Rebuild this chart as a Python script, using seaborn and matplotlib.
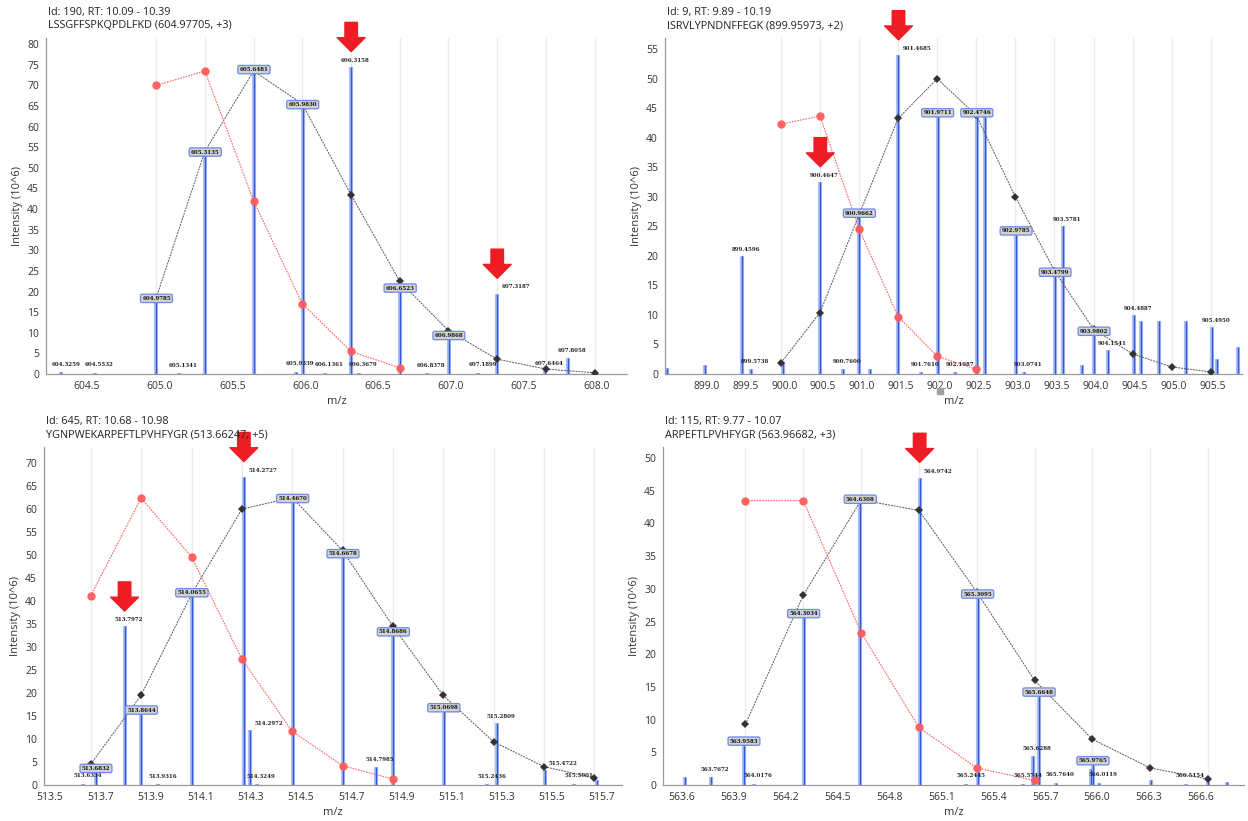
import matplotlib
matplotlib.use("Agg")
import matplotlib.pyplot as plt
import matplotlib.ticker as mticker
import matplotlib.transforms as mtransforms
import numpy as np
import seaborn as sns

sns.set_style("white")
plt.rcParams["font.family"] = ["Open Sans", "DejaVu Sans"]

W, H = 1248, 821

# ---------------- panel 1 (top left) ----------------
P1_TITLE = ["Id: 190, RT: 10.09 - 10.39", "LSSGFFSPKQPDLFKD (604.97705, +3)"]
P1_MZ = [604.3259, 604.5532, 604.9785, 605.1341, 605.3135, 605.6481, 605.9339, 605.9830,
         606.1361, 606.3158, 606.3679, 606.6523, 606.8378, 606.9868, 607.1899, 607.3187,
         607.6464, 607.8058]
P1_INT = [0.4, 0.3, 18, 0.2, 53.5, 73.5, 0.6, 65, 0.3, 74.5, 0.3, 20.5, 0.2, 9, 0.3, 19.5, 0.7, 4]
P1_BOXED = ["604.9785", "605.3135", "605.6481", "605.9830", "606.6523", "606.9868"]
P1_ISO = [604.977, 605.311, 605.646, 605.980, 606.315, 606.649, 606.984, 607.318, 607.653, 607.987]
P1_THEO = [18.5, 54, 73.5, 65.5, 43.5, 22.5, 10.5, 3.6, 1.2, 0.3]
P1_OBS = [70, 73.5, 42, 17, 5.5, 1.5]
P1_ARROWS = [606.3158, 607.3187]
P1_XTICKS = [604.5, 605.0, 605.5, 606.0, 606.5, 607.0, 607.5, 608.0]
P1_YMAX = 80

# ---------------- panel 2 (top right) ----------------
P2_TITLE = ["Id: 9, RT: 9.89 - 10.19", "ISRVLYPNDNFFEGK (899.95973, +2)"]
P2_MZ = [898.49, 898.99, 899.4596, 899.5738, 899.99, 900.4647, 900.7600, 900.9662, 901.10,
         901.4685, 901.7610, 901.9711, 902.1987, 902.4746, 902.58, 902.9785, 903.0741,
         903.4799, 903.5781, 903.83, 903.9802, 904.1541, 904.4887, 904.58, 904.82, 905.16,
         905.4950, 905.56, 905.83]
P2_INT = [1.0, 1.5, 20, 0.8, 2.0, 32.5, 0.8, 27, 0.8, 54, 0.3, 44, 0.3, 44, 43.5, 24, 0.3,
          17, 25, 1.5, 7, 4, 10, 9, 9, 9, 8, 2.5, 4.5]
P2_LABELED = ["899.4596", "899.5738", "900.4647", "900.7600", "900.9662", "901.4685",
              "901.7610", "901.9711", "902.1987", "902.4746", "902.9785", "903.0741",
              "903.4799", "903.5781", "903.9802", "904.1541", "904.4887", "905.4950"]
P2_BOXED = ["900.9662", "901.9711", "902.4746", "902.9785", "903.4799", "903.9802"]
P2_ISO = [899.960, 900.461, 900.963, 901.465, 901.966, 902.468, 902.970, 903.471, 903.973,
          904.475, 904.976, 905.478]
P2_THEO = [1.9, 10.4, 27, 43.3, 50, 43.8, 30, 17.5, 7.6, 3.4, 1.2, 0.35]
P2_OBS = [42.3, 43.7, 24.5, 9.7, 3.0, 0.8]
P2_ARROWS = [901.4685, 900.4647]
P2_XTICKS = [899.0, 899.5, 900.0, 900.5, 901.0, 901.5, 902.0, 902.5, 903.0, 903.5, 904.0,
             904.5, 905.0, 905.5]
P2_YMAX = 55
P2_CURSOR = [902.0]  # small grey cursor handle under the axis

# ---------------- panel 3 (bottom left) ----------------
P3_TITLE = ["Id: 645, RT: 10.68 - 10.98", "YGNPWEKARPEFTLPVHFYGR (513.66247, +5)"]
P3_MZ = [513.6334, 513.6832, 513.7972, 513.8644, 513.9316, 514.0655, 514.2727, 514.2972,
         514.3249, 514.4670, 514.6678, 514.7985, 514.8686, 515.0698, 515.2436, 515.2809,
         515.4722, 515.5901, 515.68]
P3_INT = [0.3, 3.3, 34.5, 16, 0.2, 41.5, 67, 12, 0.2, 62, 50, 4, 33, 16.5, 0.2, 13.5, 3.3,
          0.3, 1.0]
P3_LABELED = ["513.6334", "513.6832", "513.7972", "513.8644", "513.9316", "514.0655",
              "514.2727", "514.2972", "514.3249", "514.4670", "514.6678", "514.7985",
              "514.8686", "515.0698", "515.2436", "515.2809", "515.4722", "515.5901"]
P3_BOXED = ["513.6832", "513.8644", "514.0655", "514.4670", "514.6678", "514.8686", "515.0698"]
P3_ISO = [513.662, 513.863, 514.064, 514.265, 514.465, 514.666, 514.867, 515.067, 515.268,
          515.469, 515.670]
P3_THEO = [4.5, 19.5, 41.5, 60, 62.5, 51, 34.5, 19.5, 9.4, 4.0, 1.5]
P3_OBS = [41.1, 62.4, 49.6, 27.4, 11.7, 4.2, 1.3]
P3_ARROWS = [514.2727, 513.7972]
P3_XTICKS = [513.5, 513.7, 513.9, 514.1, 514.3, 514.5, 514.7, 514.9, 515.1, 515.3, 515.5, 515.7]
P3_YMAX = 70

# ---------------- panel 4 (bottom right) ----------------
P4_TITLE = ["Id: 115, RT: 9.77 - 10.07", "ARPEFTLPVHFYGR (563.96682, +3)"]
P4_MZ = [563.62, 563.7672, 563.9583, 564.0176, 564.3034, 564.6308, 564.9742, 565.2445,
         565.3095, 565.5744, 565.6288, 565.6648, 565.7640, 565.9623, 565.9765, 566.0119,
         566.31, 566.5154, 566.64, 566.75]
P4_INT = [1.2, 1.2, 6.5, 0.2, 26, 43.5, 47, 0.2, 29, 0.2, 4.5, 14, 0.3, 2.5, 3.5, 0.3, 0.7,
          0.2, 0.8, 0.5]
P4_LABELED = ["563.7672", "563.9583", "564.0176", "564.3034", "564.6308", "564.9742",
              "565.2445", "565.3095", "565.5744", "565.6288", "565.6648", "565.7640",
              "565.9623", "565.9765", "566.0119", "566.5154"]
P4_BOXED = ["563.9583", "564.3034", "564.6308", "565.3095", "565.6648", "565.9765"]
P4_ISO = [563.967, 564.301, 564.636, 564.970, 565.305, 565.639, 565.973, 566.308, 566.642]
P4_THEO = [9.3, 29, 43.6, 42, 29.5, 16, 7, 2.6, 0.9]
P4_OBS = [43.5, 43.5, 23.3, 8.8, 2.6, 0.7]
P4_ARROWS = [564.9742]
P4_XTICKS = [563.6, 563.9, 564.2, 564.5, 564.8, 565.1, 565.4, 565.7, 566.0, 566.3, 566.6]
P4_YMAX = 50

# layout in pixels: axes left, right, top, bottom, x limits, y top, minor x step
PANELS = [
    dict(title=P1_TITLE, mz=P1_MZ, inten=P1_INT, labeled=[f"{m:.4f}" for m in P1_MZ],
         boxed=P1_BOXED, iso=P1_ISO, theo=P1_THEO, obs=P1_OBS, arrows=P1_ARROWS,
         xticks=P1_XTICKS, ymax=P1_YMAX, cursor=[],
         box=(46, 627, 38, 374), xlim=(604.22, 608.21), ytop=81.5, minor=0.1),
    dict(title=P2_TITLE, mz=P2_MZ, inten=P2_INT, labeled=P2_LABELED,
         boxed=P2_BOXED, iso=P2_ISO, theo=P2_THEO, obs=P2_OBS, arrows=P2_ARROWS,
         xticks=P2_XTICKS, ymax=P2_YMAX, cursor=P2_CURSOR,
         box=(665, 1242, 38, 374), xlim=(898.47, 905.88), ytop=56.9, minor=0.1),
    dict(title=P3_TITLE, mz=P3_MZ, inten=P3_INT, labeled=P3_LABELED,
         boxed=P3_BOXED, iso=P3_ISO, theo=P3_THEO, obs=P3_OBS, arrows=P3_ARROWS,
         xticks=P3_XTICKS, ymax=P3_YMAX, cursor=[],
         box=(44, 622, 447, 785), xlim=(513.476, 515.78), ytop=73.5, minor=0.04),
    dict(title=P4_TITLE, mz=P4_MZ, inten=P4_INT, labeled=P4_LABELED,
         boxed=P4_BOXED, iso=P4_ISO, theo=P4_THEO, obs=P4_OBS, arrows=P4_ARROWS,
         xticks=P4_XTICKS, ymax=P4_YMAX, cursor=[],
         box=(663, 1244, 447, 785), xlim=(563.49, 566.85), ytop=51.7, minor=0.05),
]

PEAK_BLUE = "#2f56e0"
RED_LINE = "#ff5b5b"
ARROW_RED = "#ee1c25"
DARK = "#333333"
SIDE = ["607.3187", "514.2727", "514.2972", "515.4722", "564.9742", "901.4685"]


def draw_panel(fig, p):
    l, r, t, b = p["box"]
    ax = fig.add_axes([l / W, 1 - b / H, (r - l) / W, (b - t) / H])
    ax.set_xlim(*p["xlim"])
    ax.set_ylim(0, p["ytop"])

    # faint grid at isotope positions
    for x in p["iso"]:
        ax.axvline(x, color="#ececec", lw=1.0, zorder=0)

    # spectrum peaks
    ax.vlines(p["mz"], 0, p["inten"], color="#aebff5", lw=3.0, zorder=1)
    ax.vlines(p["mz"], 0, p["inten"], color=PEAK_BLUE, lw=1.0, zorder=2)

    # theoretical isotope envelope (black) and observed profile (red)
    sns.lineplot(x=p["iso"], y=p["theo"], ax=ax, color="#555555", lw=0.7,
                 linestyle=(0, (2, 1)), marker="D", markersize=4.5,
                 markerfacecolor=DARK, markeredgewidth=0, zorder=3, sort=False)
    n = len(p["obs"])
    sns.lineplot(x=p["iso"][:n], y=p["obs"], ax=ax, color=RED_LINE, lw=0.8,
                 linestyle=(0, (1.5, 1)), marker="o", markersize=6,
                 markerfacecolor=RED_LINE, markeredgewidth=0, alpha=0.95, zorder=3,
                 sort=False)

    # peak labels
    for mz, h in zip(p["mz"], p["inten"]):
        lab = f"{mz:.4f}"
        if lab not in p["labeled"]:
            continue
        if lab in p["boxed"]:
            ax.annotate(lab, (mz, h), xytext=(0, 1), textcoords="offset points",
                        ha="center", va="center", fontsize=4, fontweight="bold",
                        family="DejaVu Serif", color="#111111", zorder=5,
                        bbox=dict(boxstyle="round,pad=0.3", fc="#d2d2d2",
                                  ec="#6d8ae6", lw=0.9))
        elif h < 3:
            ax.annotate(lab, (mz, h), xytext=(3, 4), textcoords="offset points",
                        ha="center", va="bottom", fontsize=4, fontweight="bold",
                        family="DejaVu Serif", color="#222222", zorder=5)
        else:
            ax.annotate(lab, (mz, h), xytext=(3, 3), textcoords="offset points",
                        ha="left" if lab in SIDE else "center", va="bottom",
                        fontsize=4, fontweight="bold", family="DejaVu Serif",
                        color="#222222", zorder=5)

    # red arrows marking peaks of interest
    for mz in p["arrows"]:
        h = p["inten"][p["mz"].index(mz)]
        ax.annotate("", xy=(mz, h), xytext=(0, 32), textcoords="offset points",
                    annotation_clip=False, zorder=6,
                    arrowprops=dict(arrowstyle="simple,head_width=2.0,head_length=1.0,tail_width=0.9",
                                    mutation_scale=10, color=ARROW_RED, shrinkA=0, shrinkB=11))

    # grey cursor handle below the axis
    trans = mtransforms.blended_transform_factory(ax.transData, ax.transAxes)
    for x in p["cursor"]:
        ax.plot([x], [-0.05], marker="s", color="#a0a0a0", markersize=5,
                transform=trans, clip_on=False, zorder=6)

    ax.set_xticks(p["xticks"])
    ax.xaxis.set_major_formatter(mticker.FormatStrFormatter("%.1f"))
    ax.xaxis.set_minor_locator(mticker.MultipleLocator(p["minor"]))
    ax.set_yticks(np.arange(0, p["ymax"] + 1, 5))
    ax.yaxis.set_minor_locator(mticker.MultipleLocator(1))
    ax.tick_params(which="major", direction="out", length=3, width=0.8, color="#777777",
                   labelsize=7.5, labelcolor="#333333", pad=2)
    ax.tick_params(which="minor", direction="out", length=1.8, width=0.6, color="#888888")
    for s in ["top", "right"]:
        ax.spines[s].set_visible(False)
    for s in ["left", "bottom"]:
        ax.spines[s].set_color("#9a9a9a")
        ax.spines[s].set_linewidth(0.9)
    ax.set_xlabel("m/z", fontsize=8, color="#333333", labelpad=3)
    ax.set_ylabel("Intensity (10^6)", fontsize=8, color="#333333", labelpad=3)

    fig.text((l + 2) / W, 1 - 12 / H - (t - 38) / H, p["title"][0], fontsize=7.8,
             color="#222222", va="center")
    fig.text((l + 2) / W, 1 - 26 / H - (t - 38) / H, p["title"][1], fontsize=7.8,
             color="#222222", va="center")
    return ax


fig = plt.figure(figsize=(W / 100, H / 100), dpi=100)
fig.patch.set_facecolor("white")
for p in PANELS:
    draw_panel(fig, p)

fig.savefig("out.png", dpi=100, facecolor="white")
